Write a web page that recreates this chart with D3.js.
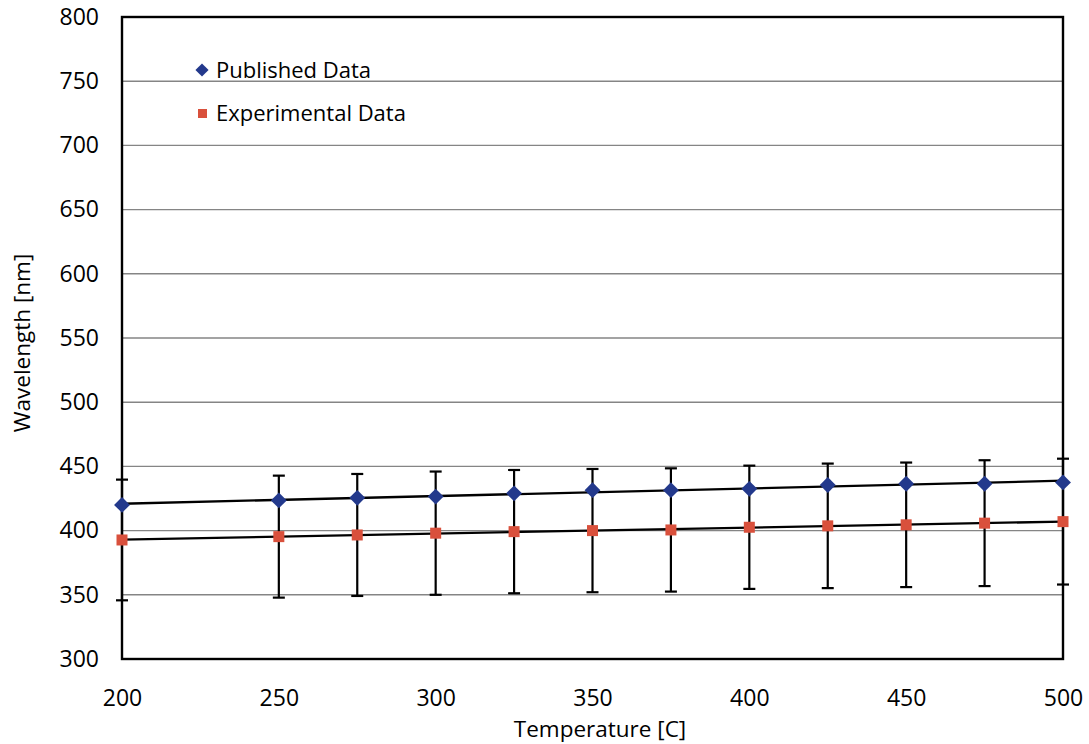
<!DOCTYPE html>
<html>
<head>
<meta charset="utf-8">
<script src="https://cdn.jsdelivr.net/npm/d3@7"></script>
<style>
  body { margin: 0; background: #fff; }
  svg text { font-family: 'Open Sans', sans-serif; fill: #000; }
</style>
</head>
<body>
<div id="chart"></div>
<script>
// Data
const temperatures = [200, 250, 275, 300, 325, 350, 375, 400, 425, 450, 475, 500];
const publishedData = [420, 423.5, 425.5, 426.5, 429, 431.5, 431.5, 432.5, 435.5, 436.5, 436.5, 437.5];
const experimentalData = [392.7, 395.3, 396.6, 398, 399.2, 400, 400.5, 402.6, 403.7, 404.5, 405.8, 407];
const experimentalError = [47, 47.5, 47.5, 48, 48, 48, 48, 48, 48.5, 48.5, 49, 49];
const xTicks = [200, 250, 300, 350, 400, 450, 500];
const yTicks = [300, 350, 400, 450, 500, 550, 600, 650, 700, 750, 800];

const W = 1089, H = 744;
const margin = { top: 17, right: 26, bottom: 85, left: 122 };
const plotW = W - margin.left - margin.right;
const plotH = H - margin.top - margin.bottom;

const svg = d3.select("#chart").append("svg")
    .attr("width", W)
    .attr("height", H);

const g = svg.append("g")
    .attr("transform", `translate(${margin.left}, ${margin.top})`);

const x = d3.scaleLinear().domain([200, 500]).range([0, plotW]);
const y = d3.scaleLinear().domain([300, 800]).range([plotH, 0]);

// gridlines
g.append("g")
    .selectAll("line")
    .data(yTicks.filter(t => t > 300 && t < 800))
    .enter()
    .append("line")
    .attr("x1", 0).attr("x2", plotW)
    .attr("y1", d => y(d)).attr("y2", d => y(d))
    .attr("stroke", "#858585")
    .attr("stroke-width", 1.4);

// y axis labels
g.append("g")
    .call(d3.axisLeft(y).tickValues(yTicks).tickSize(0).tickPadding(23))
    .call(a => a.select(".domain").remove())
    .selectAll("text")
    .style("font-size", "23px")
    .style("font-family", "'Open Sans', sans-serif")
    .attr("fill", "#000");

// x axis labels
g.append("g")
    .attr("transform", `translate(0, ${plotH})`)
    .call(d3.axisBottom(x).tickValues(xTicks).tickSize(0).tickPadding(31))
    .call(a => a.select(".domain").remove())
    .selectAll("text")
    .style("font-size", "23px")
    .style("font-family", "'Open Sans', sans-serif")
    .attr("fill", "#000");

// axis titles
svg.append("text")
    .attr("x", 600)
    .attr("y", 737)
    .attr("text-anchor", "middle")
    .style("font-size", "22.5px")
    .text("Temperature [C]");

svg.append("text")
    .attr("transform", "translate(30, 343) rotate(-90)")
    .attr("text-anchor", "middle")
    .style("font-size", "22.5px")
    .text("Wavelength [nm]");

// linear trendlines (least squares on each series)
function trend(xs, ys) {
    const mx = d3.mean(xs), my = d3.mean(ys);
    const slope = d3.sum(xs, (v, i) => (v - mx) * (ys[i] - my)) / d3.sum(xs, v => (v - mx) * (v - mx));
    return t => my + slope * (t - mx);
}
[publishedData, experimentalData].forEach(series => {
    const f = trend(temperatures, series);
    g.append("line")
        .attr("x1", x(200)).attr("y1", y(f(200)))
        .attr("x2", x(500)).attr("y2", y(f(500)))
        .attr("stroke", "#000")
        .attr("stroke-width", 2.3);
});

// error bars on experimental data
const expPts = temperatures.map((t, i) => ({ t, v: experimentalData[i], e: experimentalError[i] }));
const eb = g.append("g").attr("stroke", "#000").attr("stroke-width", 2.2);
eb.selectAll(".stem").data(expPts).enter().append("line")
    .attr("x1", d => x(d.t)).attr("x2", d => x(d.t))
    .attr("y1", d => y(d.v + d.e)).attr("y2", d => y(d.v - d.e));
eb.selectAll(".capTop").data(expPts).enter().append("line")
    .attr("x1", d => x(d.t) - 6).attr("x2", d => x(d.t) + 6)
    .attr("y1", d => y(d.v + d.e)).attr("y2", d => y(d.v + d.e));
eb.selectAll(".capBot").data(expPts).enter().append("line")
    .attr("x1", d => x(d.t) - 6).attr("x2", d => x(d.t) + 6)
    .attr("y1", d => y(d.v - d.e)).attr("y2", d => y(d.v - d.e));

// plot frame
g.append("rect")
    .attr("x", 0).attr("y", 0)
    .attr("width", plotW).attr("height", plotH)
    .attr("fill", "none")
    .attr("stroke", "#000")
    .attr("stroke-width", 2.4);

const blue = "#23398c", red = "#d9503c";

// markers
g.selectAll(".pub").data(temperatures).enter().append("path")
    .attr("d", d3.symbol().type(d3.symbolDiamond2).size(160))
    .attr("transform", (d, i) => `translate(${x(d)}, ${y(publishedData[i])})`)
    .attr("fill", blue);

g.selectAll(".exp").data(temperatures).enter().append("rect")
    .attr("x", d => x(d) - 5.5).attr("y", (d, i) => y(experimentalData[i]) - 5.5)
    .attr("width", 11).attr("height", 11)
    .attr("fill", red);

// legend
const legend = svg.append("g");
legend.append("path")
    .attr("d", d3.symbol().type(d3.symbolDiamond2).size(110))
    .attr("transform", "translate(202, 70)")
    .attr("fill", blue);
legend.append("rect")
    .attr("x", 198).attr("y", 109).attr("width", 9).attr("height", 9)
    .attr("fill", red);
legend.append("text").attr("x", 216).attr("y", 78)
    .style("font-size", "22px").text("Published Data");
legend.append("text").attr("x", 216).attr("y", 121)
    .style("font-size", "22px").text("Experimental Data");
</script>
</body>
</html>
